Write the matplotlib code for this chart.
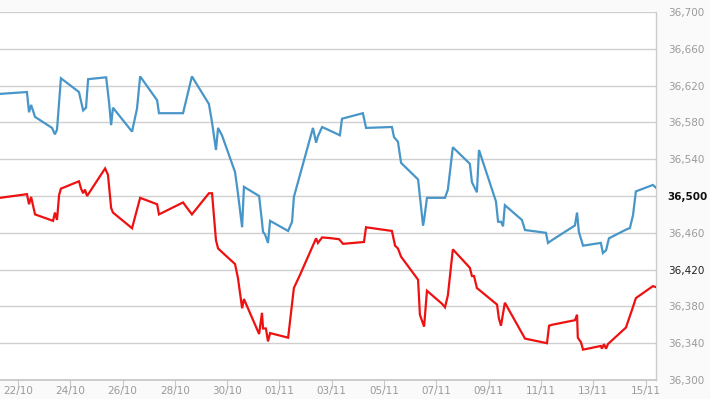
import matplotlib
matplotlib.use("Agg")
import matplotlib.pyplot as plt

# Time axis: days since 22/10
tick_days = [0, 2, 4, 6, 8, 10, 12, 14, 16, 18, 20, 22, 24]
tick_labels = ["22/10", "24/10", "26/10", "28/10", "30/10", "01/11", "03/11",
               "05/11", "07/11", "09/11", "11/11", "13/11", "15/11"]

y_ticks = [36300, 36340, 36380, 36420, 36460, 36500, 36540, 36580, 36620, 36660, 36700]

blue_days = [-0.69, 0.34, 0.42, 0.50, 0.65, 1.30, 1.41, 1.49, 1.64, 2.33, 2.49, 2.60, 2.68,
             3.37, 3.48, 3.56, 3.63, 4.36, 4.55, 4.67, 5.32, 5.39, 6.31, 6.65, 7.30, 7.42,
             7.57, 7.65, 7.80, 8.30, 8.41, 8.57, 8.64, 9.22, 9.33, 9.37, 9.45, 9.56, 9.64,
             10.33, 10.48, 10.55, 11.28, 11.40, 11.47, 11.63, 12.01, 12.31, 12.39, 13.19,
             13.31, 14.30, 14.38, 14.53, 14.65, 15.30, 15.49, 15.53, 15.64, 16.33, 16.44,
             16.63, 17.28, 17.36, 17.55, 17.63, 18.28, 18.36, 18.47, 18.55, 18.62, 19.27,
             19.39, 20.19, 20.27, 20.42, 21.30, 21.38, 21.45, 21.61, 22.29, 22.37, 22.49,
             22.60, 23.29, 23.40, 23.52, 23.63, 24.28, 24.40]
blue_vals = [36611, 36613, 36591, 36599, 36586, 36574, 36567, 36572, 36628, 36613, 36593, 36596, 36627,
             36629, 36602, 36577, 36596, 36570, 36595, 36630, 36604, 36590, 36590, 36630, 36600, 36580,
             36550, 36574, 36566, 36526, 36503, 36466, 36510, 36500, 36472, 36461, 36458, 36449, 36473,
             36462, 36472, 36499, 36574, 36558, 36565, 36575, 36570, 36566, 36584, 36590,
             36574, 36575, 36564, 36559, 36536, 36518, 36468, 36474, 36498, 36498, 36507,
             36553, 36535, 36515, 36504, 36550, 36494, 36472, 36472, 36467, 36490, 36474,
             36463, 36460, 36449, 36452, 36468, 36482, 36461, 36446, 36449, 36438, 36441,
             36454, 36464, 36465, 36479, 36505, 36512, 36509]

red_days = [-0.69, 0.34, 0.42, 0.50, 0.65, 1.34, 1.41, 1.49, 1.57, 1.64, 2.33, 2.41, 2.49, 2.56,
            2.64, 3.33, 3.44, 3.56, 3.63, 4.36, 4.67, 5.32, 5.39, 6.31, 6.65, 7.30, 7.42, 7.57,
            7.65, 7.80, 8.30, 8.41, 8.57, 8.64, 9.22, 9.33, 9.37, 9.48, 9.56, 9.64, 10.33, 10.55,
            10.78, 11.40, 11.47, 11.63, 12.01, 12.28, 12.43, 13.23, 13.31, 14.30, 14.42, 14.53,
            14.65, 15.30, 15.37, 15.53, 15.64, 16.21, 16.33, 16.44, 16.63, 17.28, 17.36, 17.44,
            17.55, 18.32, 18.39, 18.47, 18.62, 19.39, 20.23, 20.31, 20.42, 21.30, 21.38, 21.41,
            21.53, 21.61, 22.29, 22.33, 22.41, 22.49, 22.56, 23.25, 23.37, 23.48, 23.63, 24.28, 24.40]
red_vals = [36498, 36502, 36491, 36499, 36480, 36473, 36482, 36474, 36501, 36508, 36516, 36508, 36503, 36507,
            36500, 36530, 36523, 36487, 36482, 36465, 36498, 36491, 36480, 36493, 36480, 36503, 36503, 36452,
            36443, 36439, 36426, 36411, 36378, 36388, 36350, 36373, 36356, 36356, 36342, 36351, 36346, 36400,
            36414, 36454, 36449, 36455, 36454, 36453, 36448, 36450, 36466, 36462, 36446, 36443,
            36434, 36409, 36371, 36358, 36397, 36383, 36379, 36392, 36442, 36422, 36413, 36413,
            36400, 36382, 36367, 36359, 36384, 36345, 36340, 36359, 36360, 36365, 36371, 36346,
            36341, 36333, 36337, 36334, 36339, 36334, 36339, 36357, 36367, 36376, 36389, 36402, 36401]

fig = plt.figure(figsize=(7.10, 3.99), dpi=100, facecolor="#fafafa")
ax = fig.add_axes([0.0, 1 - 380 / 399, 656 / 710, 368 / 399])
ax.set_facecolor("white")

for y in y_ticks:
    ax.axhline(y, color="#d0d0d0", lw=1.0, zorder=1)

ax.plot(blue_days, blue_vals, color="#4896c8", lw=1.6, zorder=3, solid_joinstyle="miter")
ax.plot(red_days, red_vals, color="#ee1111", lw=1.6, zorder=3, solid_joinstyle="miter")

ax.set_xlim(-0.69, 24.40)
ax.set_ylim(36300, 36700)

for s in ["left", "top"]:
    ax.spines[s].set_visible(False)
ax.spines["right"].set_color("#cccccc")
ax.spines["right"].set_linewidth(1.0)
ax.spines["bottom"].set_color("#c4c4c4")
ax.spines["bottom"].set_linewidth(1.2)

ax.set_xticks(tick_days)
ax.set_xticklabels(tick_labels)
ax.tick_params(axis="x", length=6, width=0.8, color="#c8c8c8", pad=-2,
               labelsize=7.5, labelcolor="#9a9a9a")

ax.yaxis.tick_right()
ax.set_yticks(y_ticks)
ax.set_yticklabels([f"{v:,}" for v in y_ticks])
ax.tick_params(axis="y", length=0, pad=8.5, labelsize=7.5, labelcolor="#9a9a9a")
for lbl, v in zip(ax.get_yticklabels(), y_ticks):
    if v == 36500:
        lbl.set_color("#111111")
        lbl.set_fontweight("bold")
    elif v == 36420:
        lbl.set_color("#222222")

fig.savefig("out.png", dpi=100, facecolor=fig.get_facecolor())
